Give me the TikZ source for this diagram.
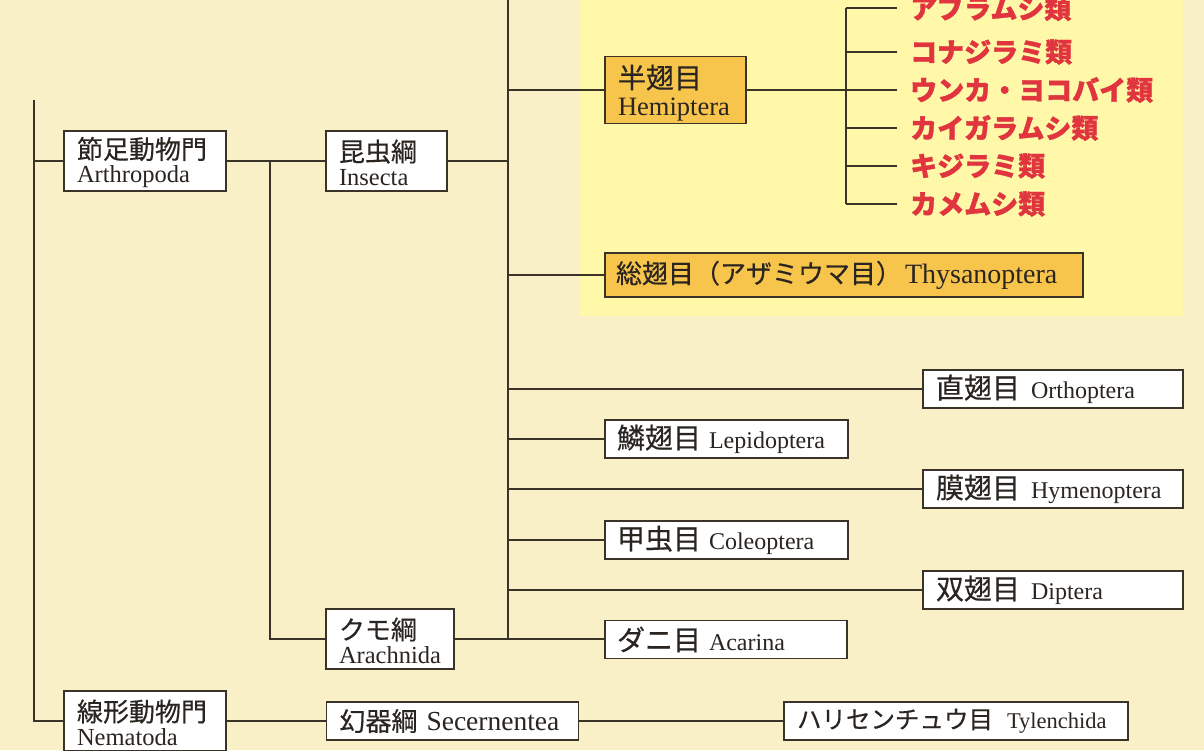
\documentclass[tikz,border=0pt]{standalone}
\usepackage{fontspec}
\setmainfont{Liberation Serif}
\newfontfamily\cjk{Noto Sans CJK JP}[FakeBold=0.4]
\newfontfamily\cjkr{Noto Sans CJK JP}[BoldFeatures={FakeBold=1.2}]
\definecolor{bgc}{HTML}{FAF0C8}
\definecolor{panelc}{HTML}{FFF8A8}
\definecolor{orangec}{HTML}{F7C44C}
\definecolor{edgec}{HTML}{3A3328}
\definecolor{redc}{HTML}{E0343E}
\definecolor{textc}{HTML}{2A2520}
\newcommand\jpl[1]{{\fontsize{28}{28}\cjk #1}}
\newcommand\jpm[1]{{\fontsize{26}{26}\cjk #1}}
\newcommand\jps[1]{\rule{0pt}{25pt}{\fontsize{26}{26}\cjk #1}}
\newcommand\lat[2][24]{{\fontsize{#1}{#1}\selectfont #2}}
\begin{document}
\begin{tikzpicture}[x=1pt,y=-1pt,
  conn/.style={draw=edgec, line width=1.7pt},
  box/.style={draw=edgec, line width=1.2pt, fill=white, inner xsep=13pt, inner ysep=0pt,
    align=left, text=textc, font=\fontsize{22}{27}\selectfont},
  obox/.style={box, fill=orangec},
  onel/.style={minimum height=38pt},
  twol/.style={minimum height=60pt},
  redlab/.style={anchor=west, inner xsep=13pt, inner ysep=0pt, text=redc,
    font=\fontsize{27}{27}\cjkr\bfseries}]
\useasboundingbox (0,0) rectangle (1204,750);
\fill[bgc] (0,0) rectangle (1204,750);
\fill[panelc] (580,0) rectangle (1183,316);

% nodes
\node[box, twol, text width=136pt] (arth) at (145,161) {\jps{節足動物門}\\[-3pt]\lat[24.5]{Arthropoda}};
\node[box, twol, text width=95pt] (insecta) at (386.5,161) {\jps{昆虫綱}\\[-3pt]\lat[24.5]{Insecta}};
\node[box, twol, text width=102pt] (arach) at (390,639) {\jps{クモ綱}\\[-3pt]\lat[24.5]{Arachnida}};
\node[box, twol, text width=136pt] (nema) at (145,721) {\jps{線形動物門}\\[-3pt]\lat[24.5]{Nematoda}};
\node[box, onel, text width=226pt] (secer) at (452.5,721) {\mbox{\jpm{幻器綱}\hspace{9pt}\lat[27.5]{Secernentea}}};
\node[box, onel, text width=318pt] (tylen) at (956,721) {\mbox{{\fontsize{24.5}{25}\cjk ハリセンチュウ目}\hspace{14pt}\lat[22.5]{Tylenchida}}};

\node[obox, minimum height=67pt, text width=115pt] (hemi) at (675.5,90) {\rule{0pt}{29pt}{\fontsize{28}{28}\cjk 半翅目}\\[0pt]\lat[26.5]{Hemiptera}};
\node[obox, minimum height=44pt, text width=456pt, inner xsep=11pt] (thys) at (844,275) {\mbox{{\fontsize{26}{26}\cjk 総翅目（アザミウマ目）}\hspace{3pt}\lat[28]{Thysanoptera}}};
\node[box, onel, text width=234pt] (orth) at (1053,389) {\mbox{\jpl{直翅目}\hspace{11pt}\lat{Orthoptera}}};
\node[box, onel, text width=219pt, inner xsep=12pt] (lepi) at (726.5,439) {\mbox{\jpl{鱗翅目}\hspace{8pt}\lat{Lepidoptera}}};
\node[box, onel, text width=234pt] (hyme) at (1053,489) {\mbox{\jpl{膜翅目}\hspace{11pt}\lat{Hymenoptera}}};
\node[box, onel, text width=219pt, inner xsep=12pt] (cole) at (726.5,540) {\mbox{\jpl{甲虫目}\hspace{8pt}\lat{Coleoptera}}};
\node[box, onel, text width=234pt] (dipt) at (1053,590) {\mbox{\jpl{双翅目}\hspace{11pt}\lat{Diptera}}};
\node[box, onel, text width=218pt, inner xsep=12pt] (acar) at (726,639.5) {\mbox{\jpl{ダニ目}\hspace{8pt}\lat{Acarina}}};

\node[redlab] (r1) at (897,8) {\raisebox{-6pt}{アブラムシ類}};
\node[redlab] (r2) at (897,52) {\raisebox{2pt}{コナジラミ類}};
\node[redlab] (r3) at (897,90) {\raisebox{2pt}{ウンカ・ヨコバイ類}};
\node[redlab] (r4) at (897,128) {\raisebox{2pt}{カイガラムシ類}};
\node[redlab] (r5) at (897,166) {\raisebox{2pt}{キジラミ類}};
\node[redlab] (r6) at (897,204) {\raisebox{2pt}{カメムシ類}};

% coordinates
\coordinate (L1) at (34,100);
\coordinate (V2) at (270,161);
\coordinate (V3top) at (508,0);
\coordinate (V3) at (508,161);
\coordinate (H1) at (846,8);

% connectors
\draw[conn] (L1) |- (nema.west);
\draw[conn] (arth.west -| L1) -- (arth.west);
\draw[conn] (arth.east) -- (insecta.west);
\draw[conn] (V2) |- (arach.west);
\draw[conn] (insecta.east) -- (V3);
\draw[conn] (V3top) -- (V3top |- arach.east);
\draw[conn] (arach.east) -- (arach.east -| acar.west);
\foreach \n in {hemi,thys,orth,lepi,hyme,cole,dipt}
  \draw[conn] (\n.west -| V3top) -- (\n.west);
\draw[conn] (hemi.east) -- (hemi.east -| H1);
\draw[conn] (H1) -- (H1 |- r6.west);
\foreach \n in {r1,r2,r3,r4,r5,r6}
  \draw[conn] (\n.west -| H1) -- (\n.west);
\draw[conn] (nema.east) -- (secer.west);
\draw[conn] (secer.east) -- (tylen.west);
\end{tikzpicture}
\end{document}
